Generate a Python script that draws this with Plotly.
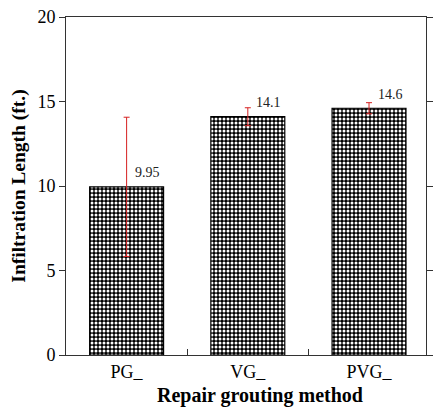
import plotly.graph_objects as go

categories = ["PG_", "VG_", "PVG_"]
values = [9.95, 14.1, 14.6]
errors = [4.12, 0.53, 0.33]
value_labels = ["9.95", "14.1", "14.6"]
y_ticks = [0, 5, 10, 15, 20]

FONT = "Liberation Serif"
xpos = list(range(len(categories)))

fig = go.Figure()
fig.add_trace(go.Bar(
    x=xpos, y=values, width=0.61,
    marker=dict(color="black", line=dict(color="black", width=1.2),
                pattern=dict(shape=".", size=4, solidity=0.45,
                             fgcolor="white", bgcolor="black",
                             fillmode="replace")),
    error_y=dict(type="data", array=errors, visible=True,
                 color="#d62020", thickness=1, width=3),
    showlegend=False,
))

for xi, v, lab in zip(xpos, values, value_labels):
    fig.add_annotation(x=xi, y=v, text=lab, showarrow=False,
                       xshift=21, yshift=14,
                       font=dict(family=FONT, size=14, color="#222"))

fig.add_annotation(x=(264 - 66) / 367, y=-0.08, xref="paper", yref="paper",
                   text="<b>Repair grouting method</b>", showarrow=False,
                   xanchor="center", yanchor="top",
                   font=dict(family=FONT, size=20, color="black"))

fig.update_layout(
    width=433, height=410,
    margin=dict(l=66, r=0, t=16.5, b=55),
    paper_bgcolor="white", plot_bgcolor="white",
    font=dict(family=FONT, color="black"),
)
fig.update_xaxes(
    range=[-0.5, 2.47],
    tickmode="array", tickvals=xpos, ticktext=categories,
    ticks="", tickfont=dict(family=FONT, size=18, color="black"),
    showline=True, linecolor="#333", linewidth=1, mirror=True,
    showgrid=False, zeroline=False,
    minor=dict(tickmode="array", tickvals=[0.5, 1.5], ticks="inside",
               ticklen=6, tickcolor="#333", showgrid=False),
)
fig.update_yaxes(
    range=[0, 20], tickmode="array", tickvals=y_ticks,
    ticks="outside", ticklen=6, tickcolor="#333",
    tickfont=dict(family=FONT, size=18, color="black"),
    showline=True, linecolor="#333", linewidth=1, mirror="ticks",
    showgrid=False, zeroline=False,
    title=dict(text="<b>Infiltration Length (ft.)</b>",
               font=dict(family=FONT, size=19.5, color="black"), standoff=6),
)

fig.write_html("out.html", post_script="document.body.style.margin='0';",
               config={"displayModeBar": False})
